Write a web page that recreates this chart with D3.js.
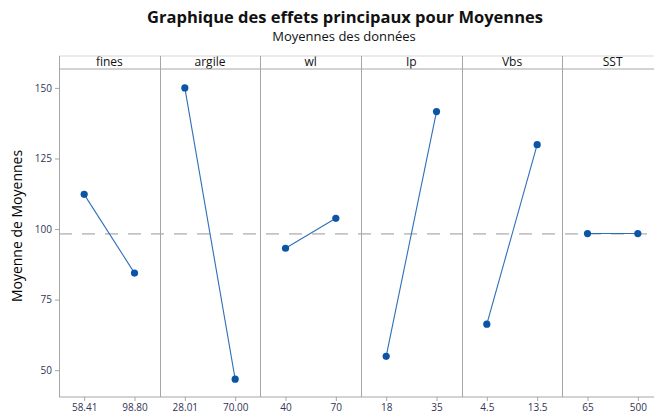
<!DOCTYPE html>
<html>
<head>
<meta charset="utf-8">
<script src="https://cdn.jsdelivr.net/npm/d3@7"></script>
<style>
  body { margin: 0; background: #fff; }
  svg { display: block; font-family: "Open Sans", "Noto Sans", sans-serif; }
</style>
</head>
<body>
<svg id="chart" width="654" height="418"></svg>
<script>
// data
var factors = ["fines", "argile", "wl", "Ip", "Vbs", "SST"];
var levels = [["58.41", "98.80"], ["28.01", "70.00"], ["40", "70"], ["18", "35"], ["4.5", "13.5"], ["65", "500"]];
var means = [[112.3, 84.4], [150.0, 46.8], [93.2, 103.8], [54.9, 141.6], [66.3, 129.9], [98.4, 98.4]];
var grandMean = 98.3;
var yTicks = [50, 75, 100, 125, 150];

var svg = d3.select("#chart");

var plotLeft = 59, plotRight = 663, plotTop = 56, stripH = 13, plotBottom = 397;
var gridColor = "#a6a6a6";

var y = d3.scaleLinear().domain([40.5, 156.7]).range([plotBottom, plotTop + stripH]);
var panel = d3.scaleBand().domain(factors).range([plotLeft, plotRight]).padding(0);

// titles
svg.append("text")
  .attr("x", 345).attr("y", 23)
  .attr("text-anchor", "middle")
  .style("font-size", "16.5px").style("font-weight", "bold").style("fill", "#111")
  .text("Graphique des effets principaux pour Moyennes");
svg.append("text")
  .attr("x", 344).attr("y", 41)
  .attr("text-anchor", "middle")
  .style("font-size", "13px").style("fill", "#111")
  .text("Moyennes des données");

// y axis label
svg.append("text")
  .attr("transform", "translate(22," + 226 + ") rotate(-90)")
  .attr("text-anchor", "middle")
  .style("font-size", "14px").style("fill", "#000")
  .text("Moyenne de Moyennes");

// y axis
var yAxis = svg.append("g")
  .attr("transform", "translate(" + plotLeft + ",0)")
  .call(d3.axisLeft(y).tickValues(yTicks).tickSize(4).tickPadding(3));
yAxis.select(".domain").remove();
yAxis.selectAll("line").attr("stroke", gridColor);
yAxis.selectAll("text").style("font-size", "10px").style("fill", "#333355")
  .style("font-family", "\"Open Sans\", sans-serif");

// mean reference line
svg.append("line")
  .attr("x1", plotLeft).attr("x2", plotRight)
  .attr("y1", y(grandMean)).attr("y2", y(grandMean))
  .attr("stroke", "#c4c4c4").attr("stroke-width", 1.6)
  .attr("stroke-dasharray", "13,10");

// panels
var panels = svg.selectAll(".panel").data(factors).enter()
  .append("g")
  .attr("class", "panel")
  .attr("transform", function (d) { return "translate(" + panel(d) + ",0)"; });

panels.each(function (f, i) {
  var g = d3.select(this);
  var w = panel.bandwidth();
  var x = d3.scalePoint().domain(levels[i]).range([0, w]).padding(0.5);

  // x axis
  var xa = g.append("g")
    .attr("transform", "translate(0," + plotBottom + ")")
    .call(d3.axisBottom(x).tickSize(4).tickPadding(3));
  xa.select(".domain").remove();
  xa.selectAll("line").attr("stroke", gridColor);
  xa.selectAll("text").style("font-size", "10px").style("fill", "#333355")
    .style("font-family", "\"Open Sans\", sans-serif");

  // strip header
  g.append("text")
    .attr("x", w / 2).attr("y", plotTop + 10)
    .attr("text-anchor", "middle")
    .style("font-size", "12px").style("fill", "#111")
    .text(f);

  var pts = levels[i].map(function (l, j) { return { level: l, value: means[i][j] }; });

  g.append("path")
    .datum(pts)
    .attr("fill", "none")
    .attr("stroke", "#2f6fb8")
    .attr("stroke-width", 1.1)
    .attr("d", d3.line().x(function (d) { return x(d.level); }).y(function (d) { return y(d.value); }));

  g.selectAll("circle").data(pts).enter()
    .append("circle")
    .attr("cx", function (d) { return x(d.level); })
    .attr("cy", function (d) { return y(d.value); })
    .attr("r", 3.6)
    .attr("fill", "#0a55a8");
});

// frame and separators
svg.append("line").attr("x1", plotLeft).attr("x2", plotRight).attr("y1", plotTop).attr("y2", plotTop)
  .attr("stroke", "#d6d6d6");
svg.append("line").attr("x1", plotLeft).attr("x2", plotRight).attr("y1", plotTop + stripH).attr("y2", plotTop + stripH)
  .attr("stroke", gridColor);
svg.append("line").attr("x1", plotLeft).attr("x2", plotRight).attr("y1", plotBottom).attr("y2", plotBottom)
  .attr("stroke", gridColor);
svg.selectAll(".sep").data(factors).enter()
  .append("line")
  .attr("class", "sep")
  .attr("x1", function (d) { return Math.round(panel(d)) + 0.5; })
  .attr("x2", function (d) { return Math.round(panel(d)) + 0.5; })
  .attr("y1", plotTop).attr("y2", plotBottom)
  .attr("stroke", gridColor);
</script>
</body>
</html>
